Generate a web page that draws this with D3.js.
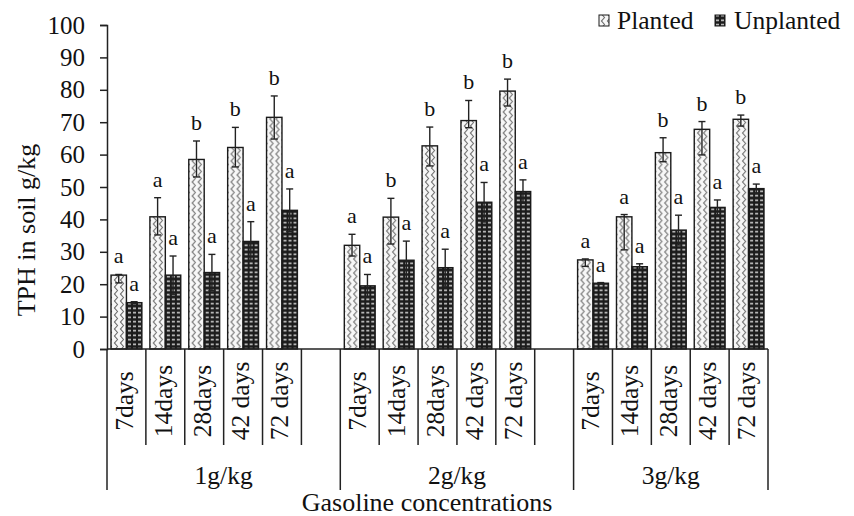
<!DOCTYPE html>
<html lang="en">
<head>
  <meta charset="UTF-8">
  <title>TPH in soil</title>
  <script src="https://d3js.org/d3.v7.min.js"></script>
  <style>
    body { margin: 0; background: #fff; }
    text { font-family: "Liberation Serif", "Times New Roman", serif; fill: #111; }
    .axis-line { stroke: #222; stroke-width: 1.5; fill: none; }
    .bar { stroke: #1a1a1a; stroke-width: 1.4; }
    .err { stroke: #222; stroke-width: 1.4; fill: none; }
  </style>
</head>
<body>
  <div id="chart"></div>

  <script>
    // chart data
    const groups = ["1g/kg", "2g/kg", "3g/kg"];
    const days = ["7days", "14days", "28days", "42 days", "72 days"];
    const series = ["Planted", "Unplanted"];

    const planted   = [22.8, 40.8, 58.5, 62.2, 71.5,  32.0, 40.7, 62.7, 70.5, 79.6,  27.5, 40.8, 60.6, 67.8, 70.9];
    const unplanted = [14.3, 22.8, 23.6, 33.2, 42.8,  19.5, 27.4, 25.1, 45.3, 48.6,  20.3, 25.4, 36.7, 43.7, 49.5];

    const plantedErrUp   = [0.2, 5.9, 5.7, 6.2, 6.6,  3.4, 5.8, 5.8, 6.2, 3.7,  0.3, 0.7, 4.6, 2.4, 1.3];
    const plantedErrDown = [2.4, 5.6, 5.4, 6.0, 6.7,  3.3, 8.3, 6.2, 2.2, 4.6,  2.0, 10.2, 2.8, 7.9, 2.1];
    const unplantedErr   = [0.3, 5.9, 5.6, 6.1, 6.6,  3.5, 5.9, 5.7, 6.1, 3.6,  0.2, 0.9, 4.6, 2.3, 1.4];

    const plantedLetters   = ["a", "a", "b", "b", "b",  "a", "b", "b", "b", "b",  "a", "a", "b", "b", "b"];
    const unplantedLetters = ["a", "a", "a", "a", "a",  "a", "a", "a", "a", "a",  "a", "a", "a", "a", "a"];

    const yTicks = [0, 10, 20, 30, 40, 50, 60, 70, 80, 90, 100];

    const W = 854, H = 516;
    const plotLeft = 107, plotRight = 768, plotTop = 25, plotBottom = 349;
    const fontSize = 25.5;

    const svg = d3.select("#chart")
      .append("svg")
      .attr("width", W)
      .attr("height", H);

    // patterns: light zigzag for planted, dark with light dashes for unplanted
    const defs = svg.append("defs");
    const zig = defs.append("pattern")
      .attr("id", "zig")
      .attr("patternUnits", "userSpaceOnUse")
      .attr("width", 6).attr("height", 7);
    zig.append("rect").attr("width", 6).attr("height", 7).attr("fill", "#f7f7f7");
    zig.append("path")
      .attr("d", "M1,-0.5 L4.5,3.5 L1,7.5")
      .attr("stroke", "#6e6e6e").attr("stroke-width", 1.1).attr("fill", "none");

    const dots = defs.append("pattern")
      .attr("id", "dots")
      .attr("patternUnits", "userSpaceOnUse")
      .attr("width", 5).attr("height", 4.5);
    dots.append("rect").attr("width", 5).attr("height", 4.5).attr("fill", "#1c1c1c");
    dots.append("rect").attr("x", 1).attr("y", 1.5).attr("width", 3).attr("height", 1.5).attr("fill", "#d8d8d8");

    const fills = { Planted: "url(#zig)", Unplanted: "url(#dots)" };

    // build the flat category list: 5 days per group, blank slot after groups 1 and 2
    const rows = [];
    groups.forEach((g, gi) => {
      days.forEach((d, di) => {
        const i = gi * days.length + di;
        rows.push({
          key: g + "|" + d, group: g, day: d,
          values: [
            { s: "Planted", v: planted[i], up: plantedErrUp[i], down: plantedErrDown[i], letter: plantedLetters[i] },
            { s: "Unplanted", v: unplanted[i], up: unplantedErr[i], down: unplantedErr[i], letter: unplantedLetters[i] }
          ]
        });
      });
      if (gi < groups.length - 1) rows.push({ key: g + "|", group: g, day: "", values: [] });
    });

    const x0 = d3.scaleBand()
      .domain(rows.map(d => d.key))
      .range([plotLeft, plotRight])
      .padding(0);

    const x1 = d3.scaleBand()
      .domain(series)
      .range([0, x0.bandwidth()])
      .paddingInner(0)
      .paddingOuter(0.26);

    const y = d3.scaleLinear()
      .domain([0, 100])
      .range([plotBottom, plotTop]);

    // y axis
    const yAxis = svg.append("g")
      .attr("transform", `translate(${plotLeft},0)`)
      .call(d3.axisLeft(y).tickValues(yTicks).tickSize(7).tickPadding(15));
    yAxis.select(".domain").attr("stroke", "#222").attr("stroke-width", 1.5);
    yAxis.selectAll(".tick line").attr("stroke", "#222").attr("stroke-width", 1.5);
    yAxis.selectAll(".tick text")
      .attr("font-size", 25)
      .attr("font-family", "Liberation Serif, Times New Roman, serif")
      .attr("fill", "#111");

    svg.append("text")
      .attr("transform", `translate(26,230) rotate(-90)`)
      .attr("text-anchor", "middle")
      .attr("dy", "0.35em")
      .attr("font-size", 26)
      .text("TPH in soil g/kg");

    // bars
    const slot = svg.selectAll(".slot")
      .data(rows)
      .enter()
      .append("g")
      .attr("class", "slot")
      .attr("transform", d => `translate(${x0(d.key)},0)`);

    slot.selectAll(".bar")
      .data(d => d.values)
      .enter()
      .append("rect")
      .attr("class", "bar")
      .attr("x", d => x1(d.s))
      .attr("y", d => y(d.v))
      .attr("width", x1.bandwidth())
      .attr("height", d => y(0) - y(d.v))
      .attr("fill", d => fills[d.s]);

    // error bars
    const cap = 3.5;
    const eb = slot.selectAll(".eb")
      .data(d => d.values)
      .enter()
      .append("g")
      .attr("class", "eb");
    eb.append("line").attr("class", "err")
      .attr("x1", d => x1(d.s) + x1.bandwidth() / 2)
      .attr("x2", d => x1(d.s) + x1.bandwidth() / 2)
      .attr("y1", d => y(d.v + d.up))
      .attr("y2", d => y(d.v - d.down));
    eb.append("line").attr("class", "err")
      .attr("x1", d => x1(d.s) + x1.bandwidth() / 2 - cap)
      .attr("x2", d => x1(d.s) + x1.bandwidth() / 2 + cap)
      .attr("y1", d => y(d.v + d.up))
      .attr("y2", d => y(d.v + d.up));
    eb.append("line").attr("class", "err")
      .attr("x1", d => x1(d.s) + x1.bandwidth() / 2 - cap)
      .attr("x2", d => x1(d.s) + x1.bandwidth() / 2 + cap)
      .attr("y1", d => y(d.v - d.down))
      .attr("y2", d => y(d.v - d.down));

    // significance letters
    slot.selectAll(".letter")
      .data(d => d.values)
      .enter()
      .append("text")
      .attr("class", "letter")
      .attr("x", d => x1(d.s) + x1.bandwidth() / 2)
      .attr("y", d => y(d.v + d.up) - 11)
      .attr("text-anchor", "middle")
      .attr("font-size", 22)
      .text(d => d.letter);

    // x axis: baseline and multi-level category table
    svg.append("line").attr("class", "axis-line")
      .attr("x1", plotLeft).attr("x2", plotRight)
      .attr("y1", plotBottom).attr("y2", plotBottom);

    const innerBottom = 445, outerBottom = 490;
    const edges = rows.map(d => x0(d.key)).concat([plotRight]);
    const groupEdges = new Set();
    groups.forEach(g => groupEdges.add(x0(rows.find(r => r.group === g).key)));
    groupEdges.add(plotRight);

    svg.selectAll(".xtick")
      .data(edges)
      .enter()
      .append("line")
      .attr("class", "axis-line")
      .attr("x1", d => d).attr("x2", d => d)
      .attr("y1", plotBottom)
      .attr("y2", d => groupEdges.has(d) ? outerBottom : innerBottom);

    svg.selectAll(".daylabel")
      .data(rows.filter(d => d.day !== ""))
      .enter()
      .append("text")
      .attr("transform", d => `translate(${x0(d.key) + x0.bandwidth() / 2},401) rotate(-90)`)
      .attr("text-anchor", "middle")
      .attr("dy", "0.25em")
      .attr("font-size", fontSize)
      .text(d => d.day);

    svg.selectAll(".grouplabel")
      .data(groups)
      .enter()
      .append("text")
      .attr("x", g => {
        const r = rows.filter(d => d.group === g);
        return (x0(r[0].key) + x0(r[r.length - 1].key) + x0.bandwidth()) / 2;
      })
      .attr("y", 484)
      .attr("text-anchor", "middle")
      .attr("font-size", fontSize)
      .text(g => g);

    svg.append("text")
      .attr("x", 427)
      .attr("y", 511)
      .attr("text-anchor", "middle")
      .attr("font-size", 26)
      .text("Gasoline concentrations");

    // legend
    const legend = svg.append("g");
    const legendItems = [
      { s: "Planted", box: 599, tx: 617 },
      { s: "Unplanted", box: 715, tx: 734 }
    ];
    legendItems.forEach(it => {
      legend.append("rect")
        .attr("x", it.box).attr("y", 15)
        .attr("width", 10).attr("height", 11)
        .attr("fill", fills[it.s])
        .attr("stroke", "#1a1a1a").attr("stroke-width", 1);
      legend.append("text")
        .attr("x", it.tx).attr("y", 29)
        .attr("font-size", fontSize)
        .text(it.s);
    });
  </script>
</body>
</html>
